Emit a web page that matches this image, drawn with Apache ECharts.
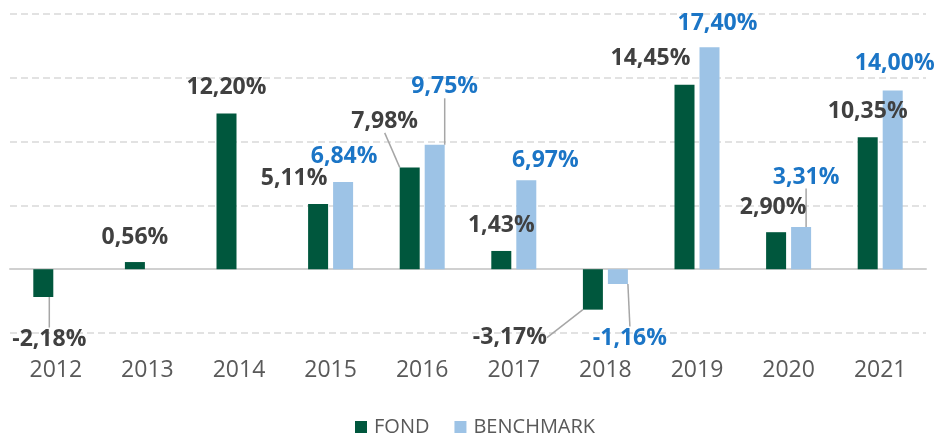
<!DOCTYPE html>
<html><head><meta charset="utf-8">
<script src="https://cdn.jsdelivr.net/npm/echarts@6/dist/echarts.min.js"></script>
<style>html,body{margin:0;padding:0;background:#fff}#c{width:937px;height:433px}</style>
</head><body><div id="c"></div>
<script>
const years = ['2012','2013','2014','2015','2016','2017','2018','2019','2020','2021'];
const fond = [-2.18, 0.56, 12.20, 5.11, 7.98, 1.43, -3.17, 14.45, 2.90, 10.35];
const benchmark = [null, null, null, 6.84, 9.75, 6.97, -1.16, 17.40, 3.31, 14.00];
const yMin = -5, yMax = 20, yStep = 5;

// label placement (pixel offsets from the bar end) and leader lines
const fondLabelOffset = [[6,42],[0,-25],[0,-26],[-24,-26],[-25,-46],[0,-26],[-83,28],[-34,-26],[-3,-25],[0,-26]];
const benchLabelOffset = [null,null,null,[1,-25],[10,-58],[19,-20],[12,54],[8,-24],[5,-50],[2,-27]];
const fondLeader = {0: [[0,1],[6,20]], 4: [[0,0],[-24,-26]], 6: [[0,1],[-25,27],[-36,27]]};
const benchLeader = {4: [[1,0],[10,-39]], 6: [[0,1],[14,33]], 8: [[1,0],[7,-30]]};

const FONT = '"Open Sans", "Segoe UI", sans-serif';

function fmt(v) { return v.toFixed(2).replace('.', ',') + '%'; }

function makeLayout(offsets, leaders, values) {
  return function (p) {
    const i = p.dataIndex;
    const r = p.rect;
    const v = values[i];
    const ax = r.x + r.width / 2;
    const ay = v >= 0 ? r.y : r.y + r.height;
    const o = offsets[i] || [0, -26];
    const res = { x: ax + o[0], y: ay + o[1], align: 'center', verticalAlign: 'middle' };
    if (leaders[i]) res.labelLinePoints = leaders[i].map(pt => [ax + pt[0], ay + pt[1]]);
    return res;
  };
}

function items(values, leaders) {
  return values.map((v, i) => ({ value: v, labelLine: { show: !!leaders[i] } }));
}

const chart = echarts.init(document.getElementById('c'), null, { renderer: 'canvas' });
chart.setOption({
  animation: false,
  backgroundColor: '#ffffff',
  grid: { left: 10, right: 11, top: 14, bottom: 100, containLabel: false },
  legend: {
    data: ['FOND', 'BENCHMARK'],
    left: 350, top: 412,
    icon: 'rect', itemWidth: 12, itemHeight: 12, itemGap: 25,
    textStyle: { fontFamily: FONT, fontSize: 20, color: '#595959', padding: [0, 0, 0, 2] }
  },
  xAxis: [
    {
      type: 'category', data: years,
      axisLine: { show: true, onZero: true, lineStyle: { color: '#D0D0D0', width: 2 } },
      axisTick: { show: false }, axisLabel: { show: false }
    },
    {
      type: 'category', data: years, position: 'bottom',
      axisLine: { show: false, onZero: false }, axisTick: { show: false },
      axisLabel: { fontFamily: FONT, fontSize: 23, color: '#595959', margin: 26 }
    }
  ],
  yAxis: {
    type: 'value', min: yMin, max: yMax, interval: yStep,
    axisLabel: { show: false }, axisLine: { show: false }, axisTick: { show: false },
    splitLine: { lineStyle: { color: '#D9D9D9', type: [7, 4], width: 1.5 } }
  },
  series: [
    {
      name: 'FOND', type: 'bar', xAxisIndex: 0,
      data: items(fond, fondLeader),
      barWidth: 20, barGap: '25%',
      itemStyle: { color: '#00573D' },
      label: {
        show: true, position: 'inside', formatter: p => fmt(p.value),
        fontFamily: FONT, fontSize: 23, fontWeight: 'bold', color: '#404040'
      },
      labelLine: { show: true, lineStyle: { color: '#A6A6A6', width: 1.5 } },
      labelLayout: makeLayout(fondLabelOffset, fondLeader, fond)
    },
    {
      name: 'BENCHMARK', type: 'bar', xAxisIndex: 0,
      data: items(benchmark, benchLeader),
      barWidth: 20, barGap: '25%',
      itemStyle: { color: '#9DC3E6' },
      label: {
        show: true, position: 'inside', formatter: p => fmt(p.value),
        fontFamily: FONT, fontSize: 23, fontWeight: 'bold', color: '#1B75C6'
      },
      labelLine: { show: true, lineStyle: { color: '#A6A6A6', width: 1.5 } },
      labelLayout: makeLayout(benchLabelOffset, benchLeader, benchmark)
    }
  ]
});
</script>
</body></html>
